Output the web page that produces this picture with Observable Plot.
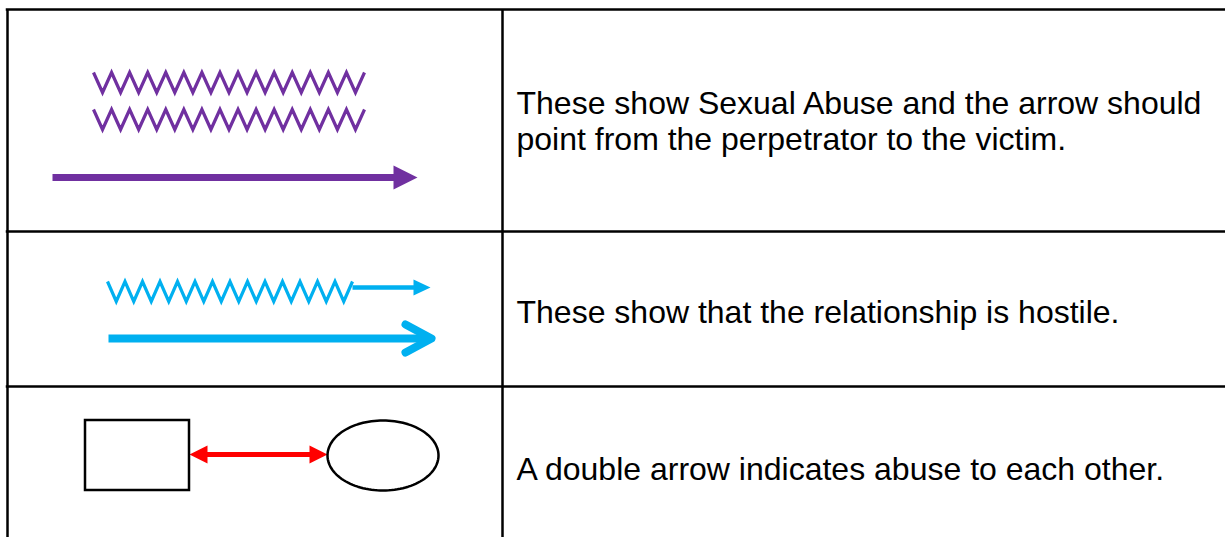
<!DOCTYPE html>
<html><head><meta charset="utf-8">
<script src="https://cdn.jsdelivr.net/npm/d3@7"></script>
<script src="https://cdn.jsdelivr.net/npm/@observablehq/plot@0.6"></script>
<style>html,body{margin:0;padding:0;background:#fff;overflow:hidden}</style>
</head><body><div id="chart"></div>
<script>
// Row descriptions (right column of the key table)
const descriptions = [
  "These show Sexual Abuse and the arrow should\npoint from the perpetrator to the victim.",
  "These show that the relationship is hostile.",
  "A double arrow indicates abuse to each other."
];
const textBaselines = [149, 322, 479];

// Table grid
const rowLines = [9, 231, 386];
const columnLines = [7, 502];

// Symbol colours
const purple = "#7030A0";
const blue = "#00B0F0";
const red = "#FF0000";

// Zigzag ("wavy") lines: start x, end x, top y, bottom y, number of teeth
const zigzags = [
  {x0: 93, x1: 364, top: 72, bottom: 92, teeth: 15, color: purple},
  {x0: 93, x1: 364, top: 109, bottom: 129, teeth: 15, color: purple},
  {x0: 107, x1: 352, top: 281, bottom: 301, teeth: 14, color: blue}
];

// Straight arrow shafts
const shafts = [
  {x1: 52, x2: 395, y: 177, w: 7, color: purple},
  {x1: 352, x2: 415, y: 287, w: 4.5, color: blue},
  {x1: 108, x2: 428, y: 338, w: 8, color: blue},
  {x1: 200, x2: 316, y: 454, w: 5, color: red}
];

// Filled arrow heads: base x, tip x, y, half-height
const heads = [
  {base: 393, tip: 417, y: 177, h: 12, color: purple},
  {base: 413, tip: 430, y: 287, h: 8, color: blue},
  {base: 207, tip: 189, y: 454, h: 9, color: red},
  {base: 309, tip: 327, y: 454, h: 9, color: red}
];

// Open chevron head of the thick hostile arrow
const chevron = [{x: 405, y: 324}, {x: 431, y: 338}, {x: 405, y: 352}];

// Relationship shapes
const boxShape = [{x1: 85, x2: 189, y1: 420, y2: 490}];
const ovalShape = {cx: 382.5, cy: 455, rx: 55.5, ry: 35};

// Build geometry for the marks
const zigPts = [];
zigzags.forEach((z, i) => {
  const step = (z.x1 - z.x0) / (2 * z.teeth);
  for (let k = 0; k <= 2 * z.teeth; k++) {
    zigPts.push({id: i, color: z.color, x: z.x0 + k * step, y: k % 2 === 0 ? z.top : z.bottom});
  }
});
const headPts = [];
heads.forEach((h, i) => {
  headPts.push({id: i, color: h.color, x: h.base, y: h.y - h.h});
  headPts.push({id: i, color: h.color, x: h.tip, y: h.y});
  headPts.push({id: i, color: h.color, x: h.base, y: h.y + h.h});
});
const ovalPts = d3.range(0, 360, 3).map(a => ({
  x: ovalShape.cx + ovalShape.rx * Math.cos(a * Math.PI / 180),
  y: ovalShape.cy + ovalShape.ry * Math.sin(a * Math.PI / 180)
}));
const rows = descriptions.map((t, i) => ({text: t, y: textBaselines[i]}));

const chart = Plot.plot({
  width: 1225,
  height: 537,
  margin: 0,
  x: {domain: [0, 1225], range: [0, 1225], axis: null},
  y: {domain: [0, 537], range: [0, 537], axis: null},
  color: {type: "identity"},
  marks: [
    Plot.ruleY(rowLines, {x1: columnLines[0] - 1.25, x2: 1225, stroke: "black", strokeWidth: 2.5}),
    Plot.ruleX(columnLines, {y1: rowLines[0], y2: 537, stroke: "black", strokeWidth: 2.5}),
    Plot.line(zigPts, {x: "x", y: "y", z: "id", stroke: "color", strokeWidth: 3.2,
      strokeLinejoin: "miter", strokeMiterlimit: 10, strokeLinecap: "butt"}),
    Plot.link(shafts, {x1: "x1", x2: "x2", y1: "y", y2: "y", stroke: "color",
      strokeWidth: "w", strokeLinecap: "butt"}),
    Plot.line(headPts, {x: "x", y: "y", z: "id", fill: "color", stroke: "none", curve: "linear-closed"}),
    Plot.line(chevron, {x: "x", y: "y", stroke: blue, strokeWidth: 8,
      strokeLinecap: "round", strokeLinejoin: "round"}),
    Plot.rect(boxShape, {x1: "x1", x2: "x2", y1: "y1", y2: "y2", fill: "white", stroke: "black", strokeWidth: 2.5}),
    Plot.line(ovalPts, {x: "x", y: "y", curve: "linear-closed", stroke: "black", strokeWidth: 2.5, fill: "white"}),
    Plot.text(rows, {x: 516, y: "y", text: "text", textAnchor: "start", lineAnchor: "bottom",
      fontSize: 32, lineHeight: 36 / 32, fill: "black",
      fontFamily: "'Liberation Sans', Arial, sans-serif"})
  ]
});
chart.style.fontFamily = "'Liberation Sans', Arial, sans-serif";
document.getElementById("chart").appendChild(chart);
</script>
</body></html>
